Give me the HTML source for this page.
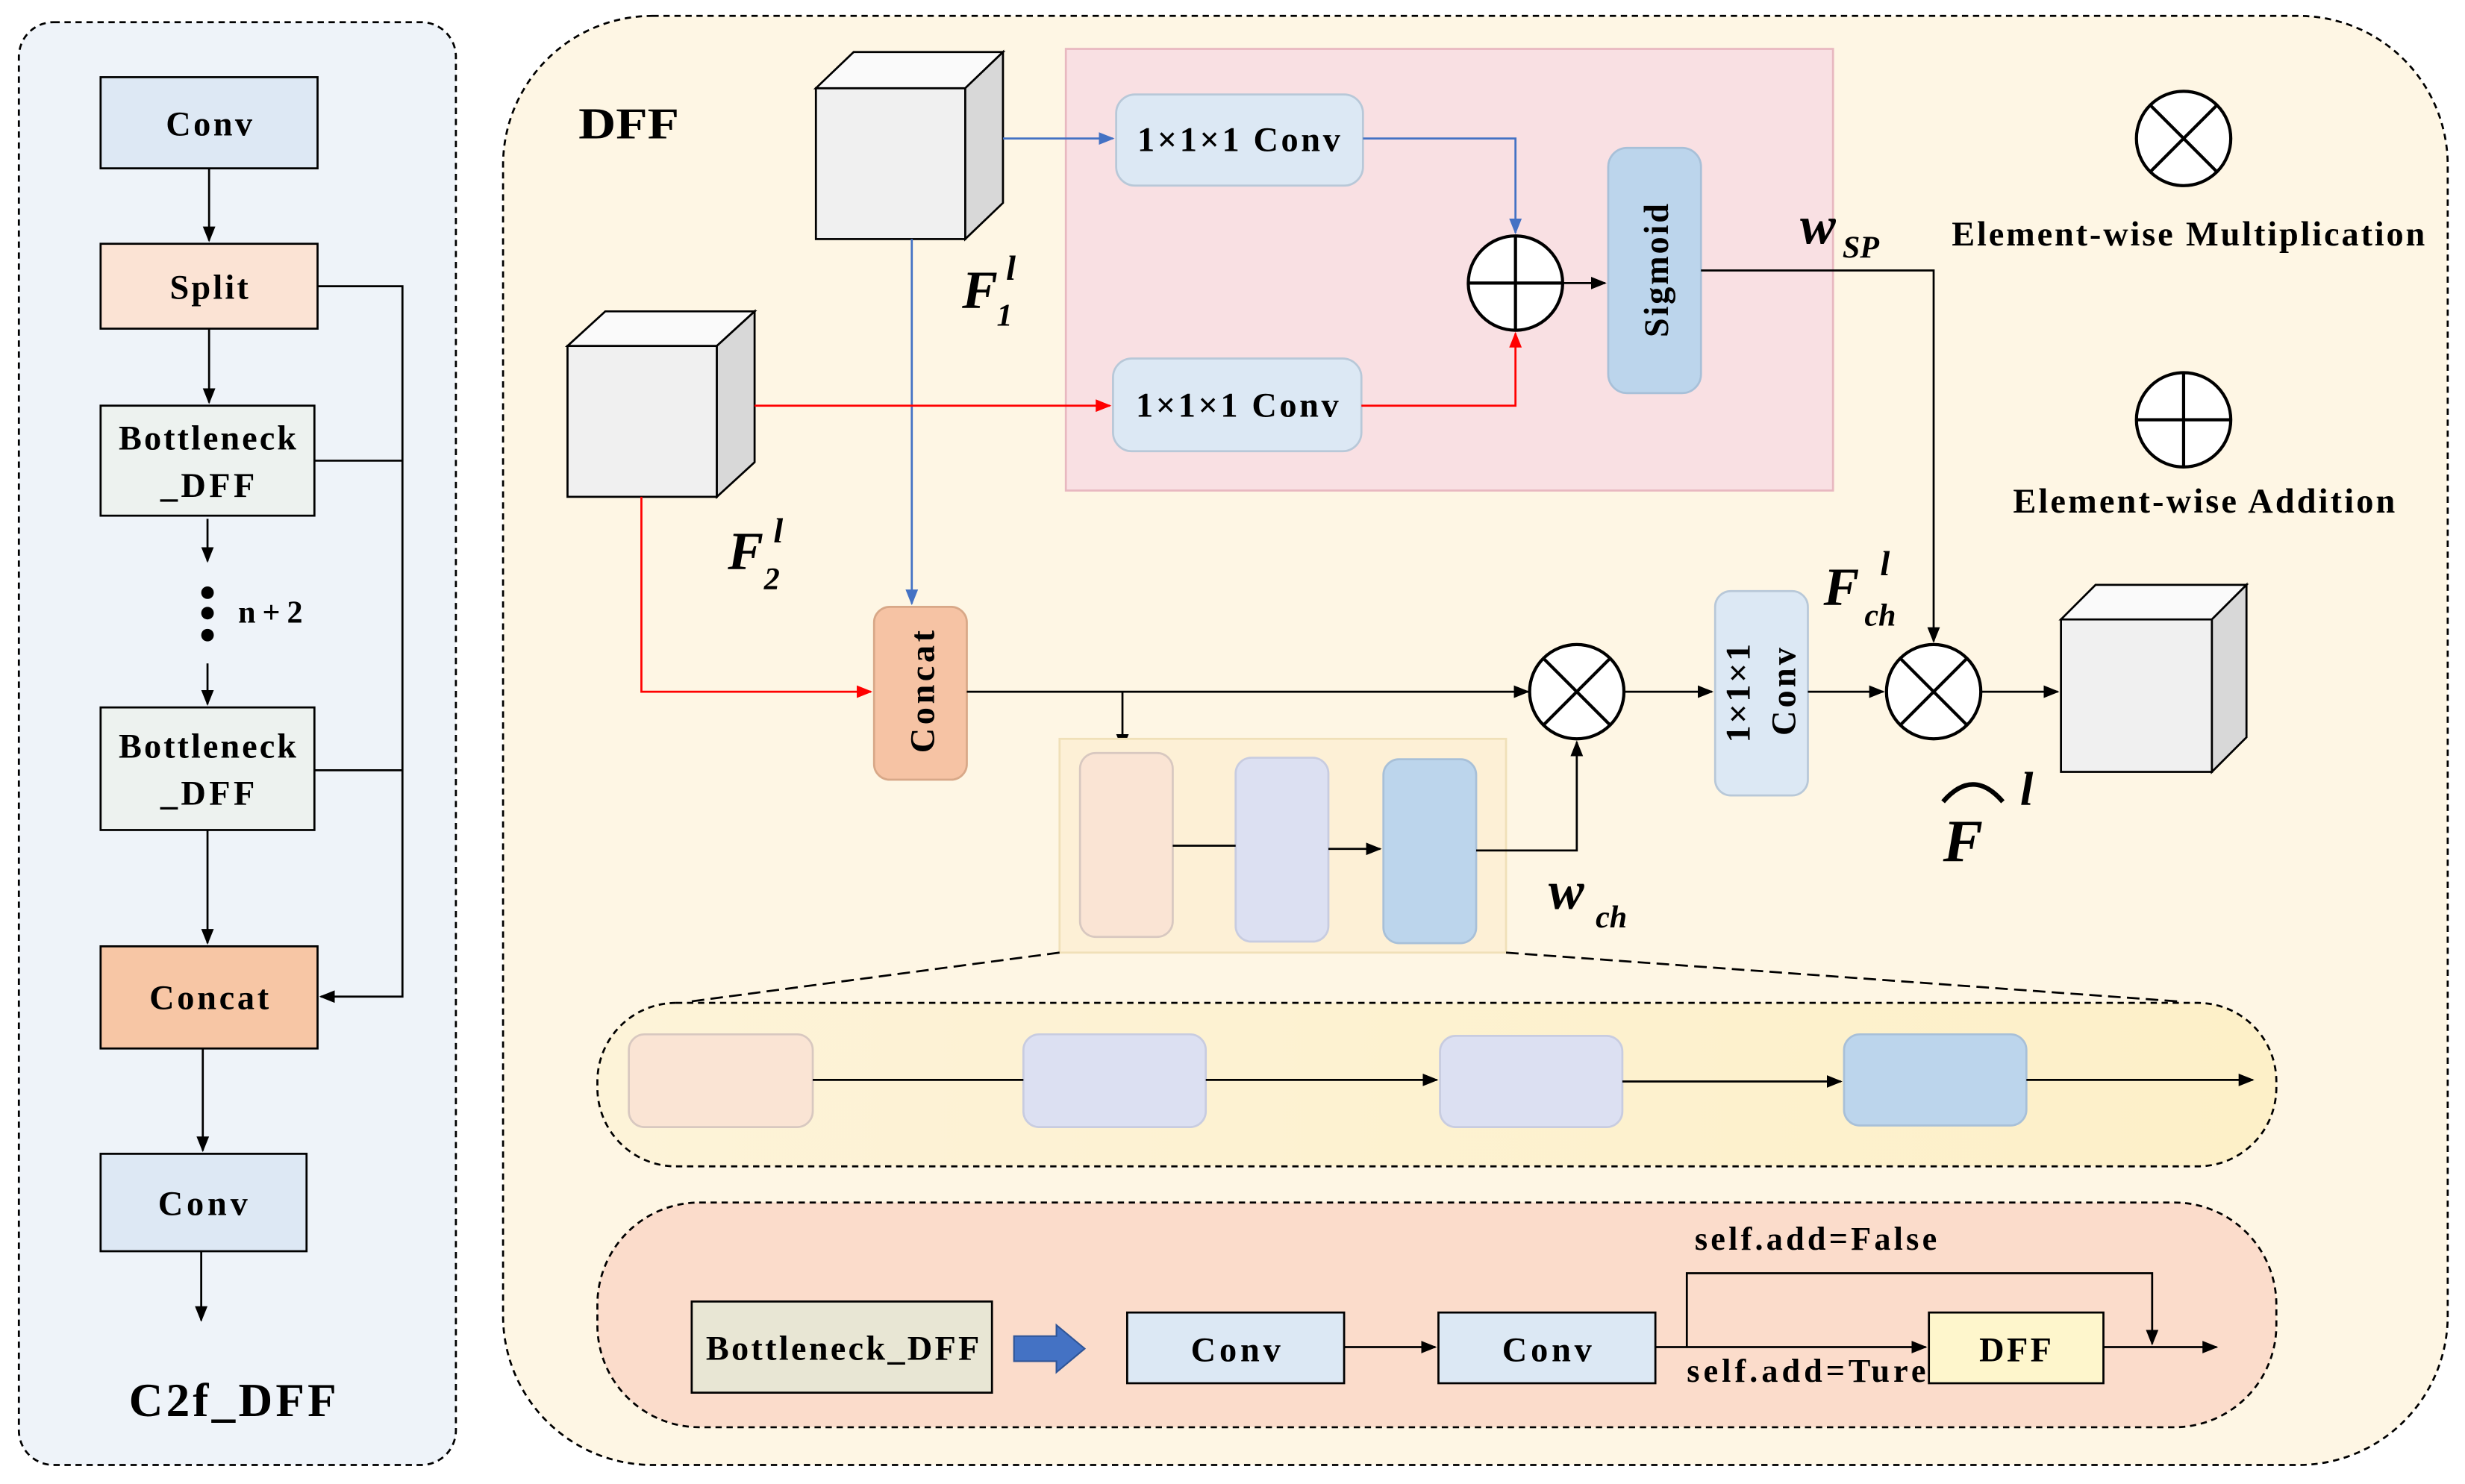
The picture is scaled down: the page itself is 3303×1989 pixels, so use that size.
<!DOCTYPE html>
<html><head><meta charset="utf-8"><style>
html,body{margin:0;padding:0;background:#fff}
svg{display:block}
text{font-family:"Liberation Serif",serif;font-weight:bold;fill:#000}
</style></head><body>
<svg width="3303" height="1989" viewBox="0 0 1568 944" xmlns="http://www.w3.org/2000/svg">
<defs>
<marker id="a" markerWidth="10" markerHeight="10" refX="9" refY="5" orient="auto" markerUnits="userSpaceOnUse"><path d="M0,1 L10,5 L0,9 z" fill="#000"/></marker>
<marker id="ab" markerWidth="10" markerHeight="10" refX="9" refY="5" orient="auto" markerUnits="userSpaceOnUse"><path d="M0,1 L10,5 L0,9 z" fill="#4472c4"/></marker>
<marker id="ar" markerWidth="10" markerHeight="10" refX="9" refY="5" orient="auto" markerUnits="userSpaceOnUse"><path d="M0,1 L10,5 L0,9 z" fill="#f00"/></marker>
<linearGradient id="g1" x1="0" x2="1"><stop offset="0" stop-color="#fdf3d8"/><stop offset="1" stop-color="#fdf0c8"/></linearGradient>
</defs>
<g fill="none" stroke="#000" stroke-width="1.3">
<rect x="12" y="14" width="278" height="918" rx="22" fill="#eef3f9" stroke-dasharray="4,3"/>
<rect x="64" y="49" width="138" height="58" fill="#dde8f4"/>
<rect x="64" y="155" width="138" height="54" fill="#fbe3d4"/>
<rect x="64" y="258" width="136" height="70" fill="#edf2ef"/>
<rect x="64" y="450" width="136" height="78" fill="#edf2ef"/>
<rect x="64" y="602" width="138" height="65" fill="#f7c6a5"/>
<rect x="64" y="734" width="131" height="62" fill="#dde8f4"/>
<path d="M133,107 V153" marker-end="url(#a)"/>
<path d="M133,209 V256" marker-end="url(#a)"/>
<path d="M132,330 V357" marker-end="url(#a)"/>
<path d="M132,422 V448" marker-end="url(#a)"/>
<path d="M132,528 V600" marker-end="url(#a)"/>
<path d="M129,667 V732" marker-end="url(#a)"/>
<path d="M128,796 V840" marker-end="url(#a)"/>
<path d="M202,182 H256 V634 H204" marker-end="url(#a)"/>
<path d="M200,293 H256 M200,490 H256"/>
<rect x="320" y="10" width="1237" height="922" rx="95" fill="#fef6e4" stroke-dasharray="4,3"/>
<rect x="678" y="31" width="488" height="281" fill="#f9e0e3" stroke="#e8b8c0"/>
<g fill="#f0f0f0">
<rect x="519" y="56" width="95" height="96"/><path d="M519,56 L543,33 H638 L614,56 z" fill="#fafafa"/><path d="M614,56 L638,33 V129 L614,152 z" fill="#d8d8d8"/>
<rect x="361" y="220" width="95" height="96"/><path d="M361,220 L385,198 H480 L456,220 z" fill="#fafafa"/><path d="M456,220 L480,198 V294 L456,316 z" fill="#d8d8d8"/>
<rect x="1311" y="394" width="96" height="97"/><path d="M1311,394 L1333,372 H1429 L1407,394 z" fill="#fafafa"/><path d="M1407,394 L1429,372 V469 L1407,491 z" fill="#d8d8d8"/>
</g>
<rect x="710" y="60" width="157" height="58" rx="12" fill="#dce8f4" stroke="#b8c8d8"/>
<rect x="708" y="228" width="158" height="59" rx="12" fill="#dce8f4" stroke="#b8c8d8"/>
<rect x="1023" y="94" width="59" height="156" rx="12" fill="#bcd5ec" stroke="#a8c0d8"/>
<circle cx="964" cy="180" r="30" fill="#fff" stroke-width="2"/><path d="M934,180 H994 M964,150 V210" stroke-width="2"/>
<path d="M638,88 H708" stroke="#4472c4" marker-end="url(#ab)"/>
<path d="M867,88 H964 V148" stroke="#4472c4" marker-end="url(#ab)"/>
<path d="M580,152 V384" stroke="#4472c4" marker-end="url(#ab)"/>
<path d="M480,258 H706" stroke="#f00" marker-end="url(#ar)"/>
<path d="M866,258 H964 V212" stroke="#f00" marker-end="url(#ar)"/>
<path d="M408,316 V440 H554" stroke="#f00" marker-end="url(#ar)"/>
<path d="M994,180 H1021" marker-end="url(#a)"/>
<path d="M1082,172 H1230 V408" marker-end="url(#a)"/>
<rect x="556" y="386" width="59" height="110" rx="10" fill="#f6c3a4" stroke="#d8a888"/>
<path d="M615,440 H972" marker-end="url(#a)"/>
<path d="M714,440 V476" marker-end="url(#a)"/>
<circle cx="1003" cy="440" r="30" fill="#fff" stroke-width="2"/><path d="M982,419 L1024,461 M1024,419 L982,461" stroke-width="2"/>
<rect x="674" y="470" width="284" height="136" fill="#fdf0d6" stroke="#f0e0b8"/>
<rect x="687" y="479" width="59" height="117" rx="10" fill="#fae4d4" stroke="#d8c8c0"/>
<rect x="786" y="482" width="59" height="117" rx="10" fill="#dce0f2" stroke="#c8cce0"/>
<rect x="880" y="483" width="59" height="117" rx="10" fill="#bcd5ec" stroke="#a8c0d8"/>
<path d="M746,538 H786"/><path d="M845,540 H878" marker-end="url(#a)"/>
<path d="M939,541 H1003 V472" marker-end="url(#a)"/>
<path d="M1033,440 H1089" marker-end="url(#a)"/>
<rect x="1091" y="376" width="59" height="130" rx="10" fill="#dce8f4" stroke="#b8c8d8"/>
<path d="M1150,440 H1198" marker-end="url(#a)"/>
<circle cx="1230" cy="440" r="30" fill="#fff" stroke-width="2"/><path d="M1209,419 L1251,461 M1251,419 L1209,461" stroke-width="2"/>
<path d="M1260,440 H1309" marker-end="url(#a)"/>
<circle cx="1389" cy="88" r="30" fill="#fff" stroke-width="2"/><path d="M1368,67 L1410,109 M1410,67 L1368,109" stroke-width="2"/>
<circle cx="1389" cy="267" r="30" fill="#fff" stroke-width="2"/><path d="M1359,267 H1419 M1389,237 V297" stroke-width="2"/>
<path d="M674,606 L440,637 M958,606 L1385,637" stroke-dasharray="8,4"/>
<rect x="380" y="638" width="1068" height="104" rx="50" fill="url(#g1)" stroke-dasharray="4,3"/>
<rect x="400" y="658" width="117" height="59" rx="10" fill="#fae4d4" stroke="#d8c8c0"/>
<rect x="651" y="658" width="116" height="59" rx="10" fill="#dce0f2" stroke="#c8cce0"/>
<rect x="916" y="659" width="116" height="58" rx="10" fill="#dce0f2" stroke="#c8cce0"/>
<rect x="1173" y="658" width="116" height="58" rx="10" fill="#bcd5ec" stroke="#a8c0d8"/>
<path d="M517,687 H651"/><path d="M767,687 H914" marker-end="url(#a)"/><path d="M1032,688 H1171" marker-end="url(#a)"/><path d="M1289,687 H1433" marker-end="url(#a)"/>
<rect x="380" y="765" width="1068" height="143" rx="65" fill="#fbdccb" stroke-dasharray="4,3"/>
<rect x="440" y="828" width="191" height="58" fill="#e8e6d4"/>
<path d="M645,850 H672 V843 L690,858 L672,873 V866 H645 z" fill="#4472c4" stroke="#2f5597" stroke-width="1"/>
<rect x="717" y="835" width="138" height="45" fill="#dce8f4"/>
<rect x="915" y="835" width="138" height="45" fill="#dce8f4"/>
<rect x="1227" y="835" width="111" height="45" fill="#fef6cc"/>
<path d="M855,857 H913" marker-end="url(#a)"/>
<path d="M1053,857 H1225" marker-end="url(#a)"/>
<path d="M1073,857 V810 H1369 V855" marker-end="url(#a)"/>
<path d="M1338,857 H1410" marker-end="url(#a)"/>
</g>
<g font-size="22" text-anchor="middle" lengthAdjust="spacingAndGlyphs">
<text x="133" y="86" textLength="55">Conv</text>
<text x="133" y="190" textLength="50">Split</text>
<text x="132" y="286" textLength="113">Bottleneck</text><text x="132" y="316" textLength="60">_DFF</text>
<text x="132" y="482" textLength="113">Bottleneck</text><text x="132" y="512" textLength="60">_DFF</text>
<text x="133" y="642" textLength="76">Concat</text>
<text x="129" y="773" textLength="57">Conv</text>
<text x="148" y="901" font-size="30" textLength="132">C2f_DFF</text>
<text x="172" y="396" font-size="20" textLength="41">n+2</text>
<text x="788" y="96" textLength="129">1×1×1 Conv</text>
<text x="787" y="265" textLength="129">1×1×1 Conv</text>
<text x="1392" y="156" textLength="301">Element-wise Multiplication</text>
<text x="1402" y="326" textLength="243">Element-wise Addition</text>
<text x="536" y="865" textLength="174">Bottleneck_DFF</text>
<text x="786" y="866" textLength="57">Conv</text>
<text x="984" y="866" textLength="57">Conv</text>
<text x="1282" y="866" textLength="46">DFF</text>
<text x="1155" y="795" font-size="21" textLength="154">self.add=False</text>
<text x="1149" y="879" font-size="21" textLength="152">self.add=Ture</text>
<text transform="translate(1061,172) rotate(-90)" textLength="85">Sigmoid</text>
<text transform="translate(594,440) rotate(-90)" textLength="78">Concat</text>
<text transform="translate(1113,441) rotate(-90)" textLength="63">1×1×1</text>
<text transform="translate(1142,440) rotate(-90)" textLength="56">Conv</text>
</g>
<g fill="#000"><circle cx="132" cy="377" r="4"/><circle cx="132" cy="390" r="4"/><circle cx="132" cy="404" r="4"/></g>
<text x="368" y="88" font-size="28" textLength="64" lengthAdjust="spacingAndGlyphs">DFF</text>
<g font-style="italic">
<text x="612" y="196" font-size="34">F</text><text x="634" y="207" font-size="20">1</text><text x="640" y="178" font-size="22">l</text>
<text x="463" y="362" font-size="34">F</text><text x="486" y="375" font-size="20">2</text><text x="492" y="345" font-size="22">l</text>
<text x="1145" y="155" font-size="34">w</text><text x="1172" y="164" font-size="20">SP</text>
<text x="985" y="578" font-size="34">w</text><text x="1015" y="590" font-size="20">ch</text>
<text x="1160" y="385" font-size="34">F</text><text x="1186" y="398" font-size="20">ch</text><text x="1196" y="366" font-size="22">l</text>
<text x="1236" y="548" font-size="38">F</text><text x="1285" y="512" font-size="30">l</text>
</g>
<path d="M1236,510 Q1255,488 1274,510" fill="none" stroke="#000" stroke-width="3"/>
</svg>
</body></html>
